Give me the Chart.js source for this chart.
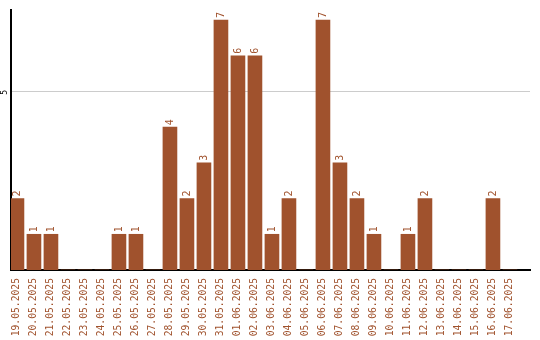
<!DOCTYPE html>
<html>
<head>
<meta charset="utf-8">
<script src="https://cdn.jsdelivr.net/npm/chart.js@4/dist/chart.umd.min.js"></script>
<style>
  html, body { margin: 0; padding: 0; background: #fff; }
  #wrap { width: 540px; height: 340px; }
</style>
</head>
<body>
<div id="wrap"><canvas id="chart"></canvas></div>
<script>
const dates = [
  '19.05.2025', '20.05.2025', '21.05.2025', '22.05.2025', '23.05.2025',
  '24.05.2025', '25.05.2025', '26.05.2025', '27.05.2025', '28.05.2025',
  '29.05.2025', '30.05.2025', '31.05.2025', '01.06.2025', '02.06.2025',
  '03.06.2025', '04.06.2025', '05.06.2025', '06.06.2025', '07.06.2025',
  '08.06.2025', '09.06.2025', '10.06.2025', '11.06.2025', '12.06.2025',
  '13.06.2025', '14.06.2025', '15.06.2025', '16.06.2025', '17.06.2025'
];
const counts = [2, 1, 1, 0, 0, 0, 1, 1, 0, 4, 2, 3, 7, 6, 6, 1, 2, 0, 7, 3, 2, 1, 0, 1, 2, 0, 0, 0, 2, 0];
const yTicks = [5];

const barColor = '#a0522d';
const mono = '"DejaVu Sans Mono", monospace';

// value labels above bars + rotated y tick labels
const extras = {
  id: 'extras',
  afterDatasetsDraw(chart) {
    const ctx = chart.ctx;
    const meta = chart.getDatasetMeta(0);
    ctx.save();
    ctx.fillStyle = barColor;
    ctx.font = '10px ' + mono;
    ctx.textAlign = 'left';
    ctx.textBaseline = 'middle';
    meta.data.forEach((bar, i) => {
      if (!counts[i]) return;
      ctx.save();
      ctx.translate(bar.x, bar.y - 2);
      ctx.rotate(-Math.PI / 2);
      ctx.fillText(String(counts[i]), 0, 0);
      ctx.restore();
    });
    const y = chart.scales.y;
    ctx.fillStyle = '#000';
    ctx.font = '8px ' + mono;
    ctx.textAlign = 'center';
    yTicks.forEach(v => {
      ctx.save();
      ctx.translate(5, y.getPixelForValue(v) + 1);
      ctx.rotate(-Math.PI / 2);
      ctx.fillText(String(v), 0, 0);
      ctx.restore();
    });
    ctx.restore();
  }
};

new Chart(document.getElementById('chart'), {
  type: 'bar',
  data: {
    datasets: [{
      data: counts.map((v, i) => ({ x: i, y: v })),
      backgroundColor: barColor,
      barThickness: 14
    }]
  },
  options: {
    responsive: true,
    maintainAspectRatio: false,
    animation: false,
    layout: { padding: { left: 11, top: 10, right: 10, bottom: 0 } },
    plugins: { legend: { display: false }, tooltip: { enabled: false } },
    scales: {
      x: {
        type: 'linear',
        offset: false,
        min: -0.35,
        max: 30.18,
        afterBuildTicks: s => { s.ticks = dates.map((d, i) => ({ value: i })); },
        afterFit: s => { s.height = 70; s.paddingLeft = 0; s.paddingRight = 0; },
        grid: { display: false, offset: false },
        border: { color: '#000', width: 2 },
        ticks: {
          autoSkip: false,
          minRotation: 90,
          maxRotation: 90,
          padding: 0,
          color: barColor,
          font: { family: mono, size: 9.7 },
          callback: v => dates[v]
        }
      },
      y: {
        min: 0,
        max: 7.28,
        afterBuildTicks: s => { s.ticks = yTicks.map(v => ({ value: v })); },
        afterFit: s => { s.width = 0; },
        grid: { color: '#cccccc', lineWidth: 1, drawTicks: false },
        border: { color: '#000', width: 2 },
        ticks: { display: false }
      }
    }
  },
  plugins: [extras]
});
</script>
</body>
</html>
